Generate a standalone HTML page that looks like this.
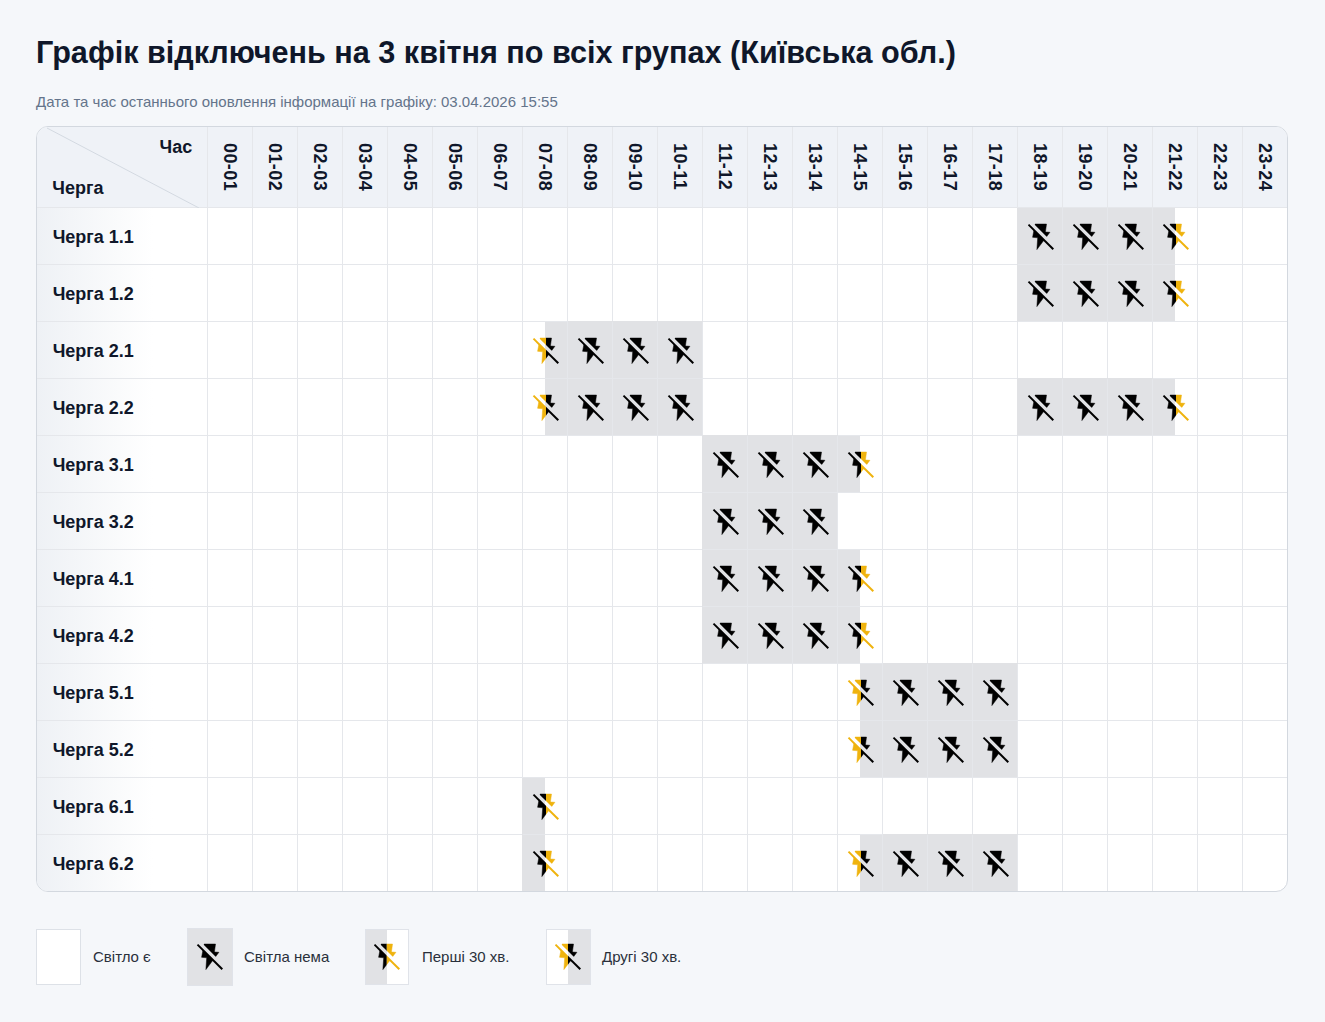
<!DOCTYPE html><html><head><meta charset="utf-8"><title>Графік відключень</title><style>
*{box-sizing:border-box}
html,body{margin:0;padding:0}
body{background:#f5f7fa;font-family:"Liberation Sans",sans-serif;width:1325px;height:1022px;position:relative;overflow:hidden}
h1{position:absolute;left:36px;top:35px;margin:0;font-size:30.6px;line-height:34px;font-weight:bold;color:#0f172a;white-space:nowrap}
.sub{position:absolute;left:36px;top:94px;font-size:15px;line-height:16px;color:#64748b;white-space:nowrap}
.tbl{position:absolute;left:36px;top:126px;width:1252px;height:766px;border:1px solid #d3d8df;border-radius:12px;overflow:hidden;background:#fff}
.hdr{position:absolute;left:0;top:0;width:1250px;height:81px;background:#eff2f7;border-bottom:1px solid #e5e7eb}
.corner{position:absolute;left:0;top:0;width:171px;height:81px;border-right:1px solid #e5e7eb}
.corner svg{position:absolute;left:0;top:0}
.cas{position:absolute;left:122.5px;top:10px;font-size:18px;font-weight:bold;color:#0f172a}
.cherga{position:absolute;left:15.3px;top:51px;font-size:18px;font-weight:bold;color:#0f172a}
.hc{position:absolute;top:0;width:45px;height:80px;border-right:1px solid #e5e7eb}
.hc span{position:absolute;left:50%;top:15.5px;transform:translateX(-50%);writing-mode:vertical-rl;letter-spacing:0.4px;font-size:18px;font-weight:bold;color:#0f172a;line-height:18px}
.rl{position:absolute;left:0;width:171px;height:57px;border-right:1px solid #e5e7eb;border-bottom:1px solid #e5e7eb;background:linear-gradient(to right,#eef1f5 0%,#ffffff 68%)}
.rl span{position:absolute;left:15.7px;top:19px;font-size:18px;font-weight:bold;color:#0f172a;line-height:20px}
.c{position:absolute;width:45px;height:57px;border-right:1px solid #e5e7eb;border-bottom:1px solid #e5e7eb}
.g{background:#e1e2e5}
.ga{background:linear-gradient(to right,#e1e2e5 50%,#fff 50%)}
.gb{background:linear-gradient(to right,#fff 50%,#e1e2e5 50%)}
.ic{position:absolute;left:8px;top:14px;width:30px;height:30px;overflow:visible}
.leg{position:absolute;box-sizing:border-box;border:1px solid #e0e3e9}
.leg .ic{margin:-1px 0 0 -1px}
.lt{position:absolute;top:948px;font-size:15px;line-height:18px;color:#2a303b;white-space:nowrap}
</style></head><body>
<svg width="0" height="0" style="position:absolute;left:0;top:0">
<defs>
<mask id="m" maskUnits="userSpaceOnUse" x="-5" y="-5" width="40" height="40">
<rect x="-5" y="-5" width="40" height="40" fill="#fff"/>
<polygon points="-5,-10.9 35,29.1 35,35.1 -5,-4.9" fill="#000"/>
</mask>
<symbol id="ic" viewBox="0 0 30 30" overflow="visible">
<polygon points="9.1,2.05 20.5,2.05 19.4,10 23.9,10.3 10.9,27.6 11.7,15.8 6.6,15.3" fill="currentColor" stroke="currentColor" stroke-width="0.5" stroke-linejoin="round" mask="url(#m)"/>
<line x1="2.5" y1="2.6" x2="27.3" y2="27.3" stroke="currentColor" stroke-width="2"/>
</symbol>
</defs></svg>
<h1>Графік відключень на 3 квітня по всіх групах (Київська обл.)</h1>
<div class="sub">Дата та час останнього оновлення інформації на графіку: 03.04.2026 15:55</div>
<div class="tbl">
<div class="hdr">
<div class="corner"><svg width="171" height="81"><line x1="10" y1="1" x2="162" y2="81" stroke="#d3d9e1" stroke-width="1"/></svg><span class="cas">Час</span><span class="cherga">Черга</span></div>
<div class="hc" style="left:171px"><span>00-01</span></div>
<div class="hc" style="left:216px"><span>01-02</span></div>
<div class="hc" style="left:261px"><span>02-03</span></div>
<div class="hc" style="left:306px"><span>03-04</span></div>
<div class="hc" style="left:351px"><span>04-05</span></div>
<div class="hc" style="left:396px"><span>05-06</span></div>
<div class="hc" style="left:441px"><span>06-07</span></div>
<div class="hc" style="left:486px"><span>07-08</span></div>
<div class="hc" style="left:531px"><span>08-09</span></div>
<div class="hc" style="left:576px"><span>09-10</span></div>
<div class="hc" style="left:621px"><span>10-11</span></div>
<div class="hc" style="left:666px"><span>11-12</span></div>
<div class="hc" style="left:711px"><span>12-13</span></div>
<div class="hc" style="left:756px"><span>13-14</span></div>
<div class="hc" style="left:801px"><span>14-15</span></div>
<div class="hc" style="left:846px"><span>15-16</span></div>
<div class="hc" style="left:891px"><span>16-17</span></div>
<div class="hc" style="left:936px"><span>17-18</span></div>
<div class="hc" style="left:981px"><span>18-19</span></div>
<div class="hc" style="left:1026px"><span>19-20</span></div>
<div class="hc" style="left:1071px"><span>20-21</span></div>
<div class="hc" style="left:1116px"><span>21-22</span></div>
<div class="hc" style="left:1161px"><span>22-23</span></div>
<div class="hc" style="left:1206px"><span>23-24</span></div>
</div>
<div class="rl" style="top:81px"><span>Черга 1.1</span></div>
<div class="c" style="left:171px;top:81px"></div>
<div class="c" style="left:216px;top:81px"></div>
<div class="c" style="left:261px;top:81px"></div>
<div class="c" style="left:306px;top:81px"></div>
<div class="c" style="left:351px;top:81px"></div>
<div class="c" style="left:396px;top:81px"></div>
<div class="c" style="left:441px;top:81px"></div>
<div class="c" style="left:486px;top:81px"></div>
<div class="c" style="left:531px;top:81px"></div>
<div class="c" style="left:576px;top:81px"></div>
<div class="c" style="left:621px;top:81px"></div>
<div class="c" style="left:666px;top:81px"></div>
<div class="c" style="left:711px;top:81px"></div>
<div class="c" style="left:756px;top:81px"></div>
<div class="c" style="left:801px;top:81px"></div>
<div class="c" style="left:846px;top:81px"></div>
<div class="c" style="left:891px;top:81px"></div>
<div class="c" style="left:936px;top:81px"></div>
<div class="c g" style="left:981px;top:81px;box-shadow:-1px 0 0 #e1e2e5"><svg class="ic" style="left:8px;top:14px;color:#000"><use href="#ic"/></svg></div>
<div class="c g" style="left:1026px;top:81px"><svg class="ic" style="left:8px;top:14px;color:#000"><use href="#ic"/></svg></div>
<div class="c g" style="left:1071px;top:81px"><svg class="ic" style="left:8px;top:14px;color:#000"><use href="#ic"/></svg></div>
<div class="c ga" style="left:1116px;top:81px"><svg class="ic" style="left:8px;top:14px;color:#000;clip-path:inset(-2px 15px -2px -2px)"><use href="#ic"/></svg><svg class="ic" style="left:8px;top:14px;color:#efb30e;clip-path:inset(-2px -2px -2px 15px)"><use href="#ic"/></svg></div>
<div class="c" style="left:1161px;top:81px"></div>
<div class="c" style="left:1206px;top:81px"></div>
<div class="rl" style="top:138px"><span>Черга 1.2</span></div>
<div class="c" style="left:171px;top:138px"></div>
<div class="c" style="left:216px;top:138px"></div>
<div class="c" style="left:261px;top:138px"></div>
<div class="c" style="left:306px;top:138px"></div>
<div class="c" style="left:351px;top:138px"></div>
<div class="c" style="left:396px;top:138px"></div>
<div class="c" style="left:441px;top:138px"></div>
<div class="c" style="left:486px;top:138px"></div>
<div class="c" style="left:531px;top:138px"></div>
<div class="c" style="left:576px;top:138px"></div>
<div class="c" style="left:621px;top:138px"></div>
<div class="c" style="left:666px;top:138px"></div>
<div class="c" style="left:711px;top:138px"></div>
<div class="c" style="left:756px;top:138px"></div>
<div class="c" style="left:801px;top:138px"></div>
<div class="c" style="left:846px;top:138px"></div>
<div class="c" style="left:891px;top:138px"></div>
<div class="c" style="left:936px;top:138px"></div>
<div class="c g" style="left:981px;top:138px;box-shadow:-1px 0 0 #e1e2e5"><svg class="ic" style="left:8px;top:14px;color:#000"><use href="#ic"/></svg></div>
<div class="c g" style="left:1026px;top:138px"><svg class="ic" style="left:8px;top:14px;color:#000"><use href="#ic"/></svg></div>
<div class="c g" style="left:1071px;top:138px"><svg class="ic" style="left:8px;top:14px;color:#000"><use href="#ic"/></svg></div>
<div class="c ga" style="left:1116px;top:138px"><svg class="ic" style="left:8px;top:14px;color:#000;clip-path:inset(-2px 15px -2px -2px)"><use href="#ic"/></svg><svg class="ic" style="left:8px;top:14px;color:#efb30e;clip-path:inset(-2px -2px -2px 15px)"><use href="#ic"/></svg></div>
<div class="c" style="left:1161px;top:138px"></div>
<div class="c" style="left:1206px;top:138px"></div>
<div class="rl" style="top:195px"><span>Черга 2.1</span></div>
<div class="c" style="left:171px;top:195px"></div>
<div class="c" style="left:216px;top:195px"></div>
<div class="c" style="left:261px;top:195px"></div>
<div class="c" style="left:306px;top:195px"></div>
<div class="c" style="left:351px;top:195px"></div>
<div class="c" style="left:396px;top:195px"></div>
<div class="c" style="left:441px;top:195px"></div>
<div class="c gb" style="left:486px;top:195px"><svg class="ic" style="left:8px;top:14px;color:#efb30e;clip-path:inset(-2px 15px -2px -2px)"><use href="#ic"/></svg><svg class="ic" style="left:8px;top:14px;color:#000;clip-path:inset(-2px -2px -2px 15px)"><use href="#ic"/></svg></div>
<div class="c g" style="left:531px;top:195px;box-shadow:0 -1px 0 #e1e2e5"><svg class="ic" style="left:8px;top:14px;color:#000"><use href="#ic"/></svg></div>
<div class="c g" style="left:576px;top:195px;box-shadow:0 -1px 0 #e1e2e5"><svg class="ic" style="left:8px;top:14px;color:#000"><use href="#ic"/></svg></div>
<div class="c g" style="left:621px;top:195px;box-shadow:0 -1px 0 #e1e2e5"><svg class="ic" style="left:8px;top:14px;color:#000"><use href="#ic"/></svg></div>
<div class="c" style="left:666px;top:195px"></div>
<div class="c" style="left:711px;top:195px"></div>
<div class="c" style="left:756px;top:195px"></div>
<div class="c" style="left:801px;top:195px"></div>
<div class="c" style="left:846px;top:195px"></div>
<div class="c" style="left:891px;top:195px"></div>
<div class="c" style="left:936px;top:195px"></div>
<div class="c" style="left:981px;top:195px"></div>
<div class="c" style="left:1026px;top:195px"></div>
<div class="c" style="left:1071px;top:195px"></div>
<div class="c" style="left:1116px;top:195px"></div>
<div class="c" style="left:1161px;top:195px"></div>
<div class="c" style="left:1206px;top:195px"></div>
<div class="rl" style="top:252px"><span>Черга 2.2</span></div>
<div class="c" style="left:171px;top:252px"></div>
<div class="c" style="left:216px;top:252px"></div>
<div class="c" style="left:261px;top:252px"></div>
<div class="c" style="left:306px;top:252px"></div>
<div class="c" style="left:351px;top:252px"></div>
<div class="c" style="left:396px;top:252px"></div>
<div class="c" style="left:441px;top:252px"></div>
<div class="c gb" style="left:486px;top:252px"><svg class="ic" style="left:8px;top:14px;color:#efb30e;clip-path:inset(-2px 15px -2px -2px)"><use href="#ic"/></svg><svg class="ic" style="left:8px;top:14px;color:#000;clip-path:inset(-2px -2px -2px 15px)"><use href="#ic"/></svg></div>
<div class="c g" style="left:531px;top:252px"><svg class="ic" style="left:8px;top:14px;color:#000"><use href="#ic"/></svg></div>
<div class="c g" style="left:576px;top:252px"><svg class="ic" style="left:8px;top:14px;color:#000"><use href="#ic"/></svg></div>
<div class="c g" style="left:621px;top:252px"><svg class="ic" style="left:8px;top:14px;color:#000"><use href="#ic"/></svg></div>
<div class="c" style="left:666px;top:252px"></div>
<div class="c" style="left:711px;top:252px"></div>
<div class="c" style="left:756px;top:252px"></div>
<div class="c" style="left:801px;top:252px"></div>
<div class="c" style="left:846px;top:252px"></div>
<div class="c" style="left:891px;top:252px"></div>
<div class="c" style="left:936px;top:252px"></div>
<div class="c g" style="left:981px;top:252px;box-shadow:-1px 0 0 #e1e2e5,0 -1px 0 #e1e2e5,-1px -1px 0 #e1e2e5"><svg class="ic" style="left:8px;top:14px;color:#000"><use href="#ic"/></svg></div>
<div class="c g" style="left:1026px;top:252px;box-shadow:0 -1px 0 #e1e2e5"><svg class="ic" style="left:8px;top:14px;color:#000"><use href="#ic"/></svg></div>
<div class="c g" style="left:1071px;top:252px;box-shadow:0 -1px 0 #e1e2e5"><svg class="ic" style="left:8px;top:14px;color:#000"><use href="#ic"/></svg></div>
<div class="c ga" style="left:1116px;top:252px"><svg class="ic" style="left:8px;top:14px;color:#000;clip-path:inset(-2px 15px -2px -2px)"><use href="#ic"/></svg><svg class="ic" style="left:8px;top:14px;color:#efb30e;clip-path:inset(-2px -2px -2px 15px)"><use href="#ic"/></svg></div>
<div class="c" style="left:1161px;top:252px"></div>
<div class="c" style="left:1206px;top:252px"></div>
<div class="rl" style="top:309px"><span>Черга 3.1</span></div>
<div class="c" style="left:171px;top:309px"></div>
<div class="c" style="left:216px;top:309px"></div>
<div class="c" style="left:261px;top:309px"></div>
<div class="c" style="left:306px;top:309px"></div>
<div class="c" style="left:351px;top:309px"></div>
<div class="c" style="left:396px;top:309px"></div>
<div class="c" style="left:441px;top:309px"></div>
<div class="c" style="left:486px;top:309px"></div>
<div class="c" style="left:531px;top:309px"></div>
<div class="c" style="left:576px;top:309px"></div>
<div class="c" style="left:621px;top:309px"></div>
<div class="c g" style="left:666px;top:309px;box-shadow:-1px 0 0 #e1e2e5,0 -1px 0 #e1e2e5,-1px -1px 0 #e1e2e5"><svg class="ic" style="left:8px;top:14px;color:#000"><use href="#ic"/></svg></div>
<div class="c g" style="left:711px;top:309px;box-shadow:0 -1px 0 #e1e2e5"><svg class="ic" style="left:8px;top:14px;color:#000"><use href="#ic"/></svg></div>
<div class="c g" style="left:756px;top:309px;box-shadow:0 -1px 0 #e1e2e5"><svg class="ic" style="left:8px;top:14px;color:#000"><use href="#ic"/></svg></div>
<div class="c ga" style="left:801px;top:309px"><svg class="ic" style="left:8px;top:14px;color:#000;clip-path:inset(-2px 15px -2px -2px)"><use href="#ic"/></svg><svg class="ic" style="left:8px;top:14px;color:#efb30e;clip-path:inset(-2px -2px -2px 15px)"><use href="#ic"/></svg></div>
<div class="c" style="left:846px;top:309px"></div>
<div class="c" style="left:891px;top:309px"></div>
<div class="c" style="left:936px;top:309px"></div>
<div class="c" style="left:981px;top:309px"></div>
<div class="c" style="left:1026px;top:309px"></div>
<div class="c" style="left:1071px;top:309px"></div>
<div class="c" style="left:1116px;top:309px"></div>
<div class="c" style="left:1161px;top:309px"></div>
<div class="c" style="left:1206px;top:309px"></div>
<div class="rl" style="top:366px"><span>Черга 3.2</span></div>
<div class="c" style="left:171px;top:366px"></div>
<div class="c" style="left:216px;top:366px"></div>
<div class="c" style="left:261px;top:366px"></div>
<div class="c" style="left:306px;top:366px"></div>
<div class="c" style="left:351px;top:366px"></div>
<div class="c" style="left:396px;top:366px"></div>
<div class="c" style="left:441px;top:366px"></div>
<div class="c" style="left:486px;top:366px"></div>
<div class="c" style="left:531px;top:366px"></div>
<div class="c" style="left:576px;top:366px"></div>
<div class="c" style="left:621px;top:366px"></div>
<div class="c g" style="left:666px;top:366px;box-shadow:-1px 0 0 #e1e2e5"><svg class="ic" style="left:8px;top:14px;color:#000"><use href="#ic"/></svg></div>
<div class="c g" style="left:711px;top:366px"><svg class="ic" style="left:8px;top:14px;color:#000"><use href="#ic"/></svg></div>
<div class="c g" style="left:756px;top:366px"><svg class="ic" style="left:8px;top:14px;color:#000"><use href="#ic"/></svg></div>
<div class="c" style="left:801px;top:366px"></div>
<div class="c" style="left:846px;top:366px"></div>
<div class="c" style="left:891px;top:366px"></div>
<div class="c" style="left:936px;top:366px"></div>
<div class="c" style="left:981px;top:366px"></div>
<div class="c" style="left:1026px;top:366px"></div>
<div class="c" style="left:1071px;top:366px"></div>
<div class="c" style="left:1116px;top:366px"></div>
<div class="c" style="left:1161px;top:366px"></div>
<div class="c" style="left:1206px;top:366px"></div>
<div class="rl" style="top:423px"><span>Черга 4.1</span></div>
<div class="c" style="left:171px;top:423px"></div>
<div class="c" style="left:216px;top:423px"></div>
<div class="c" style="left:261px;top:423px"></div>
<div class="c" style="left:306px;top:423px"></div>
<div class="c" style="left:351px;top:423px"></div>
<div class="c" style="left:396px;top:423px"></div>
<div class="c" style="left:441px;top:423px"></div>
<div class="c" style="left:486px;top:423px"></div>
<div class="c" style="left:531px;top:423px"></div>
<div class="c" style="left:576px;top:423px"></div>
<div class="c" style="left:621px;top:423px"></div>
<div class="c g" style="left:666px;top:423px;box-shadow:-1px 0 0 #e1e2e5"><svg class="ic" style="left:8px;top:14px;color:#000"><use href="#ic"/></svg></div>
<div class="c g" style="left:711px;top:423px"><svg class="ic" style="left:8px;top:14px;color:#000"><use href="#ic"/></svg></div>
<div class="c g" style="left:756px;top:423px"><svg class="ic" style="left:8px;top:14px;color:#000"><use href="#ic"/></svg></div>
<div class="c ga" style="left:801px;top:423px"><svg class="ic" style="left:8px;top:14px;color:#000;clip-path:inset(-2px 15px -2px -2px)"><use href="#ic"/></svg><svg class="ic" style="left:8px;top:14px;color:#efb30e;clip-path:inset(-2px -2px -2px 15px)"><use href="#ic"/></svg></div>
<div class="c" style="left:846px;top:423px"></div>
<div class="c" style="left:891px;top:423px"></div>
<div class="c" style="left:936px;top:423px"></div>
<div class="c" style="left:981px;top:423px"></div>
<div class="c" style="left:1026px;top:423px"></div>
<div class="c" style="left:1071px;top:423px"></div>
<div class="c" style="left:1116px;top:423px"></div>
<div class="c" style="left:1161px;top:423px"></div>
<div class="c" style="left:1206px;top:423px"></div>
<div class="rl" style="top:480px"><span>Черга 4.2</span></div>
<div class="c" style="left:171px;top:480px"></div>
<div class="c" style="left:216px;top:480px"></div>
<div class="c" style="left:261px;top:480px"></div>
<div class="c" style="left:306px;top:480px"></div>
<div class="c" style="left:351px;top:480px"></div>
<div class="c" style="left:396px;top:480px"></div>
<div class="c" style="left:441px;top:480px"></div>
<div class="c" style="left:486px;top:480px"></div>
<div class="c" style="left:531px;top:480px"></div>
<div class="c" style="left:576px;top:480px"></div>
<div class="c" style="left:621px;top:480px"></div>
<div class="c g" style="left:666px;top:480px;box-shadow:-1px 0 0 #e1e2e5"><svg class="ic" style="left:8px;top:14px;color:#000"><use href="#ic"/></svg></div>
<div class="c g" style="left:711px;top:480px"><svg class="ic" style="left:8px;top:14px;color:#000"><use href="#ic"/></svg></div>
<div class="c g" style="left:756px;top:480px"><svg class="ic" style="left:8px;top:14px;color:#000"><use href="#ic"/></svg></div>
<div class="c ga" style="left:801px;top:480px"><svg class="ic" style="left:8px;top:14px;color:#000;clip-path:inset(-2px 15px -2px -2px)"><use href="#ic"/></svg><svg class="ic" style="left:8px;top:14px;color:#efb30e;clip-path:inset(-2px -2px -2px 15px)"><use href="#ic"/></svg></div>
<div class="c" style="left:846px;top:480px"></div>
<div class="c" style="left:891px;top:480px"></div>
<div class="c" style="left:936px;top:480px"></div>
<div class="c" style="left:981px;top:480px"></div>
<div class="c" style="left:1026px;top:480px"></div>
<div class="c" style="left:1071px;top:480px"></div>
<div class="c" style="left:1116px;top:480px"></div>
<div class="c" style="left:1161px;top:480px"></div>
<div class="c" style="left:1206px;top:480px"></div>
<div class="rl" style="top:537px"><span>Черга 5.1</span></div>
<div class="c" style="left:171px;top:537px"></div>
<div class="c" style="left:216px;top:537px"></div>
<div class="c" style="left:261px;top:537px"></div>
<div class="c" style="left:306px;top:537px"></div>
<div class="c" style="left:351px;top:537px"></div>
<div class="c" style="left:396px;top:537px"></div>
<div class="c" style="left:441px;top:537px"></div>
<div class="c" style="left:486px;top:537px"></div>
<div class="c" style="left:531px;top:537px"></div>
<div class="c" style="left:576px;top:537px"></div>
<div class="c" style="left:621px;top:537px"></div>
<div class="c" style="left:666px;top:537px"></div>
<div class="c" style="left:711px;top:537px"></div>
<div class="c" style="left:756px;top:537px"></div>
<div class="c gb" style="left:801px;top:537px"><svg class="ic" style="left:8px;top:14px;color:#efb30e;clip-path:inset(-2px 15px -2px -2px)"><use href="#ic"/></svg><svg class="ic" style="left:8px;top:14px;color:#000;clip-path:inset(-2px -2px -2px 15px)"><use href="#ic"/></svg></div>
<div class="c g" style="left:846px;top:537px;box-shadow:0 -1px 0 #e1e2e5"><svg class="ic" style="left:8px;top:14px;color:#000"><use href="#ic"/></svg></div>
<div class="c g" style="left:891px;top:537px;box-shadow:0 -1px 0 #e1e2e5"><svg class="ic" style="left:8px;top:14px;color:#000"><use href="#ic"/></svg></div>
<div class="c g" style="left:936px;top:537px;box-shadow:0 -1px 0 #e1e2e5"><svg class="ic" style="left:8px;top:14px;color:#000"><use href="#ic"/></svg></div>
<div class="c" style="left:981px;top:537px"></div>
<div class="c" style="left:1026px;top:537px"></div>
<div class="c" style="left:1071px;top:537px"></div>
<div class="c" style="left:1116px;top:537px"></div>
<div class="c" style="left:1161px;top:537px"></div>
<div class="c" style="left:1206px;top:537px"></div>
<div class="rl" style="top:594px"><span>Черга 5.2</span></div>
<div class="c" style="left:171px;top:594px"></div>
<div class="c" style="left:216px;top:594px"></div>
<div class="c" style="left:261px;top:594px"></div>
<div class="c" style="left:306px;top:594px"></div>
<div class="c" style="left:351px;top:594px"></div>
<div class="c" style="left:396px;top:594px"></div>
<div class="c" style="left:441px;top:594px"></div>
<div class="c" style="left:486px;top:594px"></div>
<div class="c" style="left:531px;top:594px"></div>
<div class="c" style="left:576px;top:594px"></div>
<div class="c" style="left:621px;top:594px"></div>
<div class="c" style="left:666px;top:594px"></div>
<div class="c" style="left:711px;top:594px"></div>
<div class="c" style="left:756px;top:594px"></div>
<div class="c gb" style="left:801px;top:594px"><svg class="ic" style="left:8px;top:14px;color:#efb30e;clip-path:inset(-2px 15px -2px -2px)"><use href="#ic"/></svg><svg class="ic" style="left:8px;top:14px;color:#000;clip-path:inset(-2px -2px -2px 15px)"><use href="#ic"/></svg></div>
<div class="c g" style="left:846px;top:594px"><svg class="ic" style="left:8px;top:14px;color:#000"><use href="#ic"/></svg></div>
<div class="c g" style="left:891px;top:594px"><svg class="ic" style="left:8px;top:14px;color:#000"><use href="#ic"/></svg></div>
<div class="c g" style="left:936px;top:594px"><svg class="ic" style="left:8px;top:14px;color:#000"><use href="#ic"/></svg></div>
<div class="c" style="left:981px;top:594px"></div>
<div class="c" style="left:1026px;top:594px"></div>
<div class="c" style="left:1071px;top:594px"></div>
<div class="c" style="left:1116px;top:594px"></div>
<div class="c" style="left:1161px;top:594px"></div>
<div class="c" style="left:1206px;top:594px"></div>
<div class="rl" style="top:651px"><span>Черга 6.1</span></div>
<div class="c" style="left:171px;top:651px"></div>
<div class="c" style="left:216px;top:651px"></div>
<div class="c" style="left:261px;top:651px"></div>
<div class="c" style="left:306px;top:651px"></div>
<div class="c" style="left:351px;top:651px"></div>
<div class="c" style="left:396px;top:651px"></div>
<div class="c" style="left:441px;top:651px"></div>
<div class="c ga" style="left:486px;top:651px;box-shadow:-1px 0 0 #e1e2e5"><svg class="ic" style="left:8px;top:14px;color:#000;clip-path:inset(-2px 15px -2px -2px)"><use href="#ic"/></svg><svg class="ic" style="left:8px;top:14px;color:#efb30e;clip-path:inset(-2px -2px -2px 15px)"><use href="#ic"/></svg></div>
<div class="c" style="left:531px;top:651px"></div>
<div class="c" style="left:576px;top:651px"></div>
<div class="c" style="left:621px;top:651px"></div>
<div class="c" style="left:666px;top:651px"></div>
<div class="c" style="left:711px;top:651px"></div>
<div class="c" style="left:756px;top:651px"></div>
<div class="c" style="left:801px;top:651px"></div>
<div class="c" style="left:846px;top:651px"></div>
<div class="c" style="left:891px;top:651px"></div>
<div class="c" style="left:936px;top:651px"></div>
<div class="c" style="left:981px;top:651px"></div>
<div class="c" style="left:1026px;top:651px"></div>
<div class="c" style="left:1071px;top:651px"></div>
<div class="c" style="left:1116px;top:651px"></div>
<div class="c" style="left:1161px;top:651px"></div>
<div class="c" style="left:1206px;top:651px"></div>
<div class="rl" style="top:708px"><span>Черга 6.2</span></div>
<div class="c" style="left:171px;top:708px"></div>
<div class="c" style="left:216px;top:708px"></div>
<div class="c" style="left:261px;top:708px"></div>
<div class="c" style="left:306px;top:708px"></div>
<div class="c" style="left:351px;top:708px"></div>
<div class="c" style="left:396px;top:708px"></div>
<div class="c" style="left:441px;top:708px"></div>
<div class="c ga" style="left:486px;top:708px;box-shadow:-1px 0 0 #e1e2e5"><svg class="ic" style="left:8px;top:14px;color:#000;clip-path:inset(-2px 15px -2px -2px)"><use href="#ic"/></svg><svg class="ic" style="left:8px;top:14px;color:#efb30e;clip-path:inset(-2px -2px -2px 15px)"><use href="#ic"/></svg></div>
<div class="c" style="left:531px;top:708px"></div>
<div class="c" style="left:576px;top:708px"></div>
<div class="c" style="left:621px;top:708px"></div>
<div class="c" style="left:666px;top:708px"></div>
<div class="c" style="left:711px;top:708px"></div>
<div class="c" style="left:756px;top:708px"></div>
<div class="c gb" style="left:801px;top:708px"><svg class="ic" style="left:8px;top:14px;color:#efb30e;clip-path:inset(-2px 15px -2px -2px)"><use href="#ic"/></svg><svg class="ic" style="left:8px;top:14px;color:#000;clip-path:inset(-2px -2px -2px 15px)"><use href="#ic"/></svg></div>
<div class="c g" style="left:846px;top:708px;box-shadow:0 -1px 0 #e1e2e5"><svg class="ic" style="left:8px;top:14px;color:#000"><use href="#ic"/></svg></div>
<div class="c g" style="left:891px;top:708px;box-shadow:0 -1px 0 #e1e2e5"><svg class="ic" style="left:8px;top:14px;color:#000"><use href="#ic"/></svg></div>
<div class="c g" style="left:936px;top:708px;box-shadow:0 -1px 0 #e1e2e5"><svg class="ic" style="left:8px;top:14px;color:#000"><use href="#ic"/></svg></div>
<div class="c" style="left:981px;top:708px"></div>
<div class="c" style="left:1026px;top:708px"></div>
<div class="c" style="left:1071px;top:708px"></div>
<div class="c" style="left:1116px;top:708px"></div>
<div class="c" style="left:1161px;top:708px"></div>
<div class="c" style="left:1206px;top:708px"></div>
</div>
<div class="leg" style="left:36px;top:929px;width:45px;height:56px;background:#fff;border-color:#dde1e7"></div>
<div class="lt" style="left:93px">Світло є</div>
<div class="leg" style="left:187px;top:928px;width:46px;height:58px;background:#e1e2e5"><svg class="ic" style="left:8px;top:13.7px;color:#000"><use href="#ic"/></svg></div>
<div class="lt" style="left:244px">Світла нема</div>
<div class="leg" style="left:365px;top:929px;width:44px;height:56px;background:linear-gradient(to right,#e1e2e5 20.8px,#fff 20.8px)"><svg class="ic" style="left:6.9px;top:12.8px;color:#000;clip-path:inset(-2px 15.1px -2px -2px)"><use href="#ic"/></svg><svg class="ic" style="left:6.9px;top:12.8px;color:#efb30e;clip-path:inset(-2px -2px -2px 14.9px)"><use href="#ic"/></svg></div>
<div class="lt" style="left:422px">Перші 30 хв.</div>
<div class="leg" style="left:546px;top:929px;width:45px;height:56px;background:linear-gradient(to right,#fff 21px,#e1e2e5 21px)"><svg class="ic" style="left:7px;top:12.5px;color:#efb30e;clip-path:inset(-2px 15px -2px -2px)"><use href="#ic"/></svg><svg class="ic" style="left:7px;top:12.5px;color:#000;clip-path:inset(-2px -2px -2px 15px)"><use href="#ic"/></svg></div>
<div class="lt" style="left:602px">Другі 30 хв.</div>
</body></html>
